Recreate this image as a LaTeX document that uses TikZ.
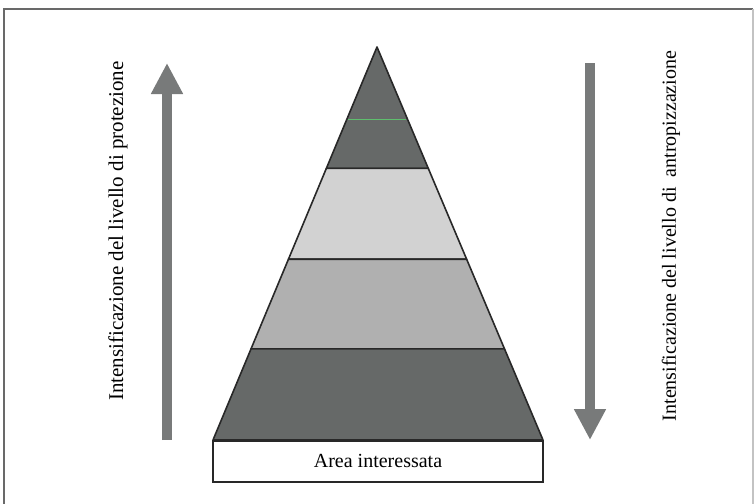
\documentclass[tikz,border=0pt]{standalone}
\usepackage{fontspec}
\setmainfont{Liberation Serif}
\usetikzlibrary{arrows.meta,positioning,calc}
\definecolor{slate}{RGB}{102,105,104}
\definecolor{pale}{RGB}{210,210,210}
\definecolor{mist}{RGB}{176,176,176}
\definecolor{shaft}{RGB}{120,122,122}
\definecolor{edge}{RGB}{40,40,40}
\definecolor{frame}{RGB}{105,105,105}
\definecolor{seam}{RGB}{95,190,110}
\tikzset{
  band/.style={fill=#1,draw=edge,line width=0.8pt,line join=round},
  band/.default=slate,
  trend/.style={draw=shaft,line width=4.6pt,-{Triangle[width=15pt,length=15.5pt]}},
  sidelabel/.style={font=\fontsize{#1}{12}\selectfont,rotate=90},
  sidelabel/.default=10,
  base box/.style={draw=edge,line width=0.8pt,fill=white,minimum width=165pt,
    minimum height=20.5pt,font=\fontsize{10}{12}\selectfont},
}

\begin{document}
\begin{tikzpicture}[x=0.5pt,y=-0.5pt]
  \useasboundingbox (0,0) rectangle (754,503);
  \clip (0,0) rectangle (754,503);
  % frame
  \draw[frame,line width=0.8pt] (4,520) -- (4,9) -- (753,9);
  \draw[frame!40,line width=0.6pt] (753,9) -- (753,520);

  % pyramid
  \coordinate (apex) at (377,47);
  \coordinate (bl) at (213,440);
  \coordinate (br) at (543,440);
  \foreach \a/\b/\c in {0/0.309/slate,0.309/0.54/pale,0.54/0.768/mist,0.768/1/slate}{
    \draw[band=\c] ($(apex)!\a!(bl)$) -- ($(apex)!\b!(bl)$) -- ($(apex)!\b!(br)$) -- ($(apex)!\a!(br)$) -- cycle;
  }
  \draw[seam,line width=0.6pt] ($(apex)!0.184!(bl)+(1.5,0)$) -- ($(apex)!0.184!(br)+(-1.5,0)$);
  \node[base box,anchor=north] (area) at ($(bl)!0.5!(br)$) {Area interessata};

  % arrows
  \coordinate (up0) at (167,440);
  \coordinate (up1) at (167,63);
  \coordinate (dn0) at (590,63);
  \coordinate (dn1) at (590,440);
  \draw[trend] (up0) -- (up1);
  \draw[trend] (dn0) -- (dn1);
  \node[sidelabel=10.5] (prot) at (118,231) {Intensificazione del livello di protezione};
  \node[sidelabel] (antr) at (671,236) {Intensificazione del livello di\ \ antropizzazione};
\end{tikzpicture}
\end{document}
